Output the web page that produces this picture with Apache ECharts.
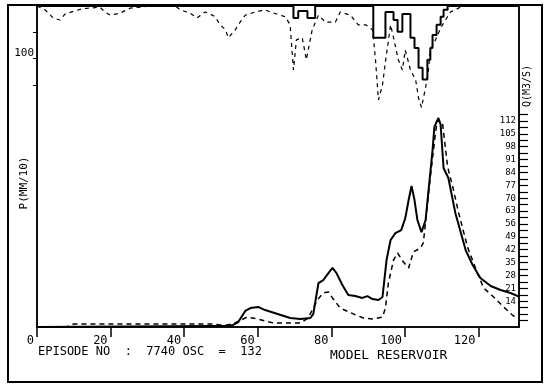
<!DOCTYPE html>
<html>
<head>
<meta charset="utf-8">
<script src="https://cdn.jsdelivr.net/npm/echarts@6/dist/echarts.min.js"></script>
<style>
html, body { margin: 0; padding: 0; background: #fff; }
#chart { width: 547px; height: 385px; }
</style>
</head>
<body>
<div id="chart"></div>
<script>
// time axis ticks
var xTicks = [0, 20, 40, 60, 80, 100, 120];
// discharge axis labels (right)
var qLabels = [14, 21, 28, 35, 42, 49, 56, 63, 70, 77, 84, 91, 98, 105, 112];
// rain axis (left, hanging from top)
var pTicks = [50, 100, 150];
var pLabels = [100];

// rainfall, solid steps [t, P]
var rainObs = [[0, 2], [69.7, 24], [71, 11], [73.5, 24], [75.6, 2], [91.4, 61], [94.7, 13],
    [96.9, 28], [98, 50], [99.3, 17], [101.5, 61], [102.6, 80], [103.7, 117], [104.8, 139],
    [106.1, 102], [106.9, 80], [107.5, 56], [108.6, 37], [109.7, 22], [110.5, 9], [111.6, 2], [131, 2]];

// rainfall, dashed [t, P]
var rainDash = [[0, 2], [2.2, 9], [4.4, 24], [6.3, 28], [7.6, 17], [10.3, 11], [12.2, 7], [17.1, 4],
    [18.5, 13], [19.9, 19], [22.6, 15], [25.3, 6], [30.7, 2], [37.6, 2], [38.9, 9], [41.6, 15],
    [43.5, 24], [45.7, 13], [47.1, 17], [48.4, 22], [49.8, 37], [51.2, 46], [52, 61], [53.9, 46],
    [55.2, 32], [56.6, 19], [59.3, 13], [62, 9], [63.4, 13], [66.1, 19], [67.5, 22], [68.8, 37],
    [69.7, 121], [70.5, 65], [72.1, 61], [73.2, 102], [74.8, 46], [76.5, 19], [78.4, 32], [81.1, 32],
    [82.4, 13], [85.2, 19], [87.3, 37], [89.3, 37], [91.2, 46], [92, 102], [92.8, 177], [93.9, 149],
    [94.7, 106], [96.1, 37], [96.9, 61], [98.2, 102], [99.3, 121], [100.1, 84], [101.5, 121],
    [102.9, 139], [103.7, 173], [104.5, 191], [105.6, 154], [106.4, 121], [106.9, 84], [108.3, 65],
    [109.7, 43], [111, 28], [112.4, 13], [113.7, 9], [115.6, 2], [131, 2]];

// discharge, solid [t, Q]
var qObs = [[0, 0], [48, 0.5], [51, 0.5], [53.3, 1.1], [54.7, 2.7], [56.6, 8.7], [58, 10.3],
    [60.1, 10.9], [62, 9.2], [68.8, 4.9], [71.6, 4.3], [74.3, 4.9], [75.1, 7.1], [76.5, 23.9],
    [77.8, 25.5], [79.2, 29.3], [80.3, 32.1], [81.4, 29.3], [83, 22.8], [84.6, 17.4], [86.5, 16.8],
    [88.4, 15.8], [89.8, 16.8], [91.2, 15.2], [92.8, 14.7], [93.9, 16.3], [95, 36.4], [96.1, 47.3],
    [97.4, 51], [99, 52.7], [100.1, 59.2], [101, 69], [101.8, 76.6], [102.6, 69], [103.4, 58],
    [104.5, 51.6], [105.6, 58], [106.7, 80], [107.5, 96], [108, 108.7], [109.1, 113.6], [109.7, 110],
    [110.5, 86.4], [111.8, 81], [113.7, 62], [116.5, 41.8], [118.4, 33.7], [120.5, 26.6],
    [123.3, 22.3], [126, 20.1], [128.7, 18.5], [131, 16.5]];

// discharge, dashed [t, Q]
var qDash = [[0, 0], [8, 0], [10, 1.6], [48, 1.6], [51, 0.8], [53.9, 2.2], [57.1, 5.4], [60.1, 4.3],
    [64.2, 2.2], [68.3, 2.2], [71.6, 2.2], [73.7, 4.9], [74.8, 9.2], [76.2, 14.7], [77.8, 18.5],
    [79.2, 19], [80.3, 15.8], [82.4, 10.3], [86, 7.1], [88.7, 4.9], [91.4, 4.3], [93.9, 5.4],
    [94.7, 10.3], [95.5, 23.9], [96.9, 36.4], [98, 40.2], [99.6, 35.3], [101, 32.1], [102.3, 40.8],
    [104.2, 42.9], [105, 45.7], [106.9, 81.5], [108.3, 105.4], [108.8, 112.5], [110.2, 110.9],
    [111.6, 87], [113, 76.1], [114.6, 62], [117, 43.5], [119.7, 29.3], [121.4, 21.2], [124.1, 16.3],
    [126.8, 10.9], [129.5, 6], [131, 4.9]];

var mono = 'DejaVu Sans Mono';

// box-like tick marks on the Q axis, half a label step apart
var qTickMarks = [];
for (var i = 1; i <= 33; i++) qTickMarks.push(i * 3.5);

var chart = echarts.init(document.getElementById('chart'), null, { renderer: 'canvas' });

var option = {
    backgroundColor: '#fff',
    animation: false,
    grid: {
        left: 37, right: 28, top: 5, bottom: 58,
        show: true, borderColor: '#000', borderWidth: 1.5
    },
    xAxis: {
        type: 'value', min: 0, max: 131,
        axisLine: { onZero: false, lineStyle: { color: '#000', width: 1.5 } },
        axisTick: { customValues: xTicks, length: 10, lineStyle: { color: '#000', width: 1.5 } },
        axisLabel: {
            customValues: xTicks, color: '#000', fontFamily: mono, fontSize: 12,
            align: 'right', padding: [0, 3, 0, 0], margin: 8
        },
        splitLine: { show: false }
    },
    yAxis: [{
        type: 'value', position: 'left', inverse: true, min: 0, max: 600,
        axisLine: { show: true, onZero: false, lineStyle: { color: '#000', width: 1.5 } },
        axisTick: { customValues: pTicks, length: 4, lineStyle: { color: '#000' } },
        axisLabel: {
            customValues: pLabels, color: '#000', fontFamily: mono, fontSize: 11,
            verticalAlign: 'bottom', margin: 3
        },
        splitLine: { show: false }
    }, {
        type: 'value', position: 'right', min: 0, max: 175,
        axisLine: { show: true, onZero: false, lineStyle: { color: '#000', width: 1.5 } },
        axisTick: { customValues: qTickMarks, length: 9, lineStyle: { color: '#000', width: 1.2 } },
        axisLabel: {
            customValues: qLabels, inside: true, color: '#000', fontFamily: mono, fontSize: 9,
            margin: 3
        },
        splitLine: { show: false }
    }],
    series: [{
        name: 'P', type: 'line', yAxisIndex: 0, step: 'end', data: rainObs,
        showSymbol: false, lineStyle: { color: '#000', width: 2 }
    }, {
        name: 'P dashed', type: 'line', yAxisIndex: 0, data: rainDash,
        showSymbol: false, lineStyle: { color: '#000', width: 1.2, type: [4, 4] }
    }, {
        name: 'Q', type: 'line', yAxisIndex: 1, data: qObs,
        showSymbol: false, lineStyle: { color: '#000', width: 2 }
    }, {
        name: 'Q dashed', type: 'line', yAxisIndex: 1, data: qDash,
        showSymbol: false, lineStyle: { color: '#000', width: 1.5, type: [5, 4] }
    }],
    graphic: [{
        type: 'rect', silent: true,
        shape: { x: 8, y: 5, width: 534, height: 377 },
        style: { fill: 'none', stroke: '#000', lineWidth: 2 }
    }, {
        type: 'text', x: 24, y: 183, rotation: Math.PI / 2,
        style: { text: 'P(MM/10)', fill: '#000', font: '11px "DejaVu Sans Mono"', align: 'center', verticalAlign: 'middle' }
    }, {
        type: 'text', x: 527, y: 86, rotation: Math.PI / 2,
        style: { text: 'Q(M3/S)', fill: '#000', font: '10px "DejaVu Sans Mono"', align: 'center', verticalAlign: 'middle' }
    }, {
        type: 'text', x: 38, y: 352,
        style: { text: 'EPISODE NO  :  7740 OSC  =  132', fill: '#000', font: '12px "DejaVu Sans Mono"', align: 'left', verticalAlign: 'middle' }
    }, {
        type: 'text', x: 330, y: 356,
        style: { text: 'MODEL RESERVOIR', fill: '#000', font: '13px "DejaVu Sans Mono"', align: 'left', verticalAlign: 'middle' }
    }]
};

chart.setOption(option);
</script>
</body>
</html>
